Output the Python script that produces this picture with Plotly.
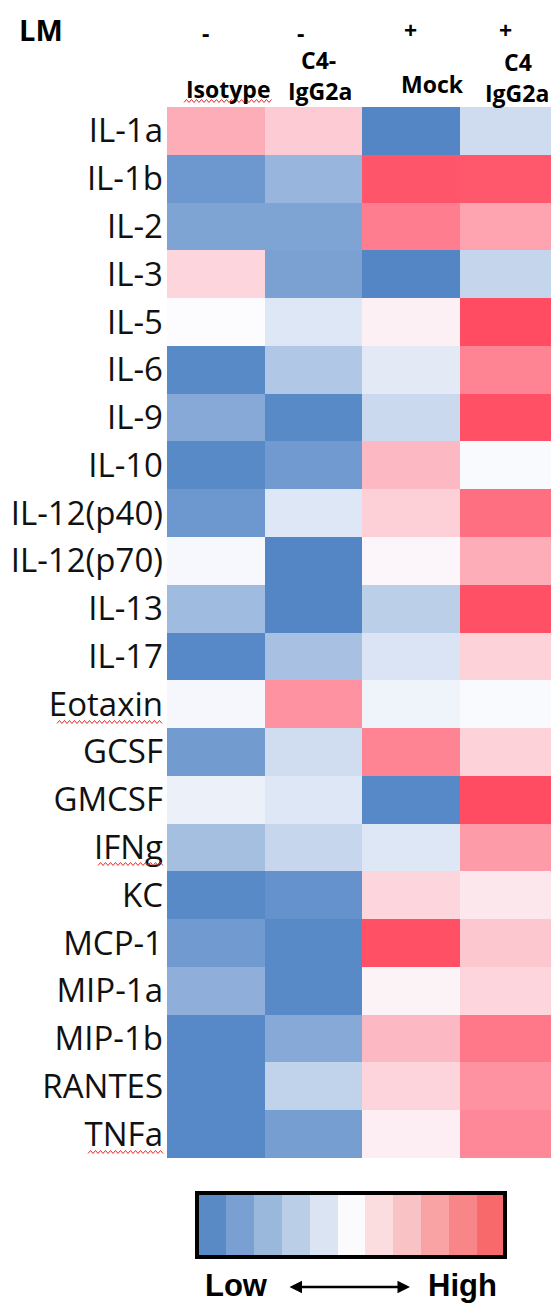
import plotly.graph_objects as go

W, H = 551, 1304

cytokines = ["IL-1a", "IL-1b", "IL-2", "IL-3", "IL-5", "IL-6", "IL-9", "IL-10",
             "IL-12(p40)", "IL-12(p70)", "IL-13", "IL-17", "Eotaxin", "GCSF",
             "GMCSF", "IFNg", "KC", "MCP-1", "MIP-1a", "MIP-1b", "RANTES", "TNFa"]
groups = ["Isotype", "C4-IgG2a", "Mock", "C4 IgG2a"]
lm_status = ["-", "-", "+", "+"]

# relative level, -1 = low (blue), +1 = high (red)
isotype = [0.45, -0.85, -0.75, 0.22, 0.0, -0.97, -0.70, -0.97, -0.85, -0.03, -0.55,
           -0.98, -0.04, -0.82, -0.10, -0.52, -0.97, -0.83, -0.65, -0.98, -0.98, -0.98]
c4_minus = [0.28, -0.60, -0.75, -0.77, -0.18, -0.45, -0.97, -0.83, -0.18, -1.0, -1.0,
            -0.50, 0.60, -0.26, -0.18, -0.32, -0.90, -0.97, -0.97, -0.70, -0.35, -0.80]
mock = [-1.0, 0.95, 0.72, -1.0, 0.07, -0.15, -0.30, 0.38, 0.25, 0.04, -0.38,
        -0.20, -0.08, 0.68, -0.98, -0.18, 0.22, 0.98, 0.05, 0.38, 0.23, 0.08]
c4_plus = [-0.27, 0.93, 0.50, -0.33, 1.0, 0.68, 0.98, -0.02, 0.80, 0.45, 0.98,
           0.24, -0.02, 0.24, 1.0, 0.55, 0.12, 0.30, 0.22, 0.75, 0.60, 0.66]

legend_levels = [-1.0, -0.8, -0.6, -0.4, -0.2, 0.0, 0.2, 0.4, 0.6, 0.8, 1.0]
legend_colors = ["#5A8AC6", "#7AA0D3", "#9AB7DC", "#BACEE7", "#DBE4F2", "#FBFBFE",
                 "#FBDCDF", "#F9C2C4", "#F9A3A5", "#F88688", "#F8696B"]

z = [[isotype[i], c4_minus[i], mock[i], c4_plus[i]] for i in range(len(cytokines))]

heat_scale = [[0.0, "rgb(84,134,198)"], [0.5, "rgb(252,252,255)"], [1.0, "rgb(255,76,98)"]]

n = len(legend_colors)
leg_scale = []
for i, c in enumerate(legend_colors):
    leg_scale.append([i / n, c])
    leg_scale.append([(i + 1) / n, c])

def px(x):
    return x / W

def py(y):
    return 1 - y / H

fig = go.Figure()
fig.add_trace(go.Heatmap(
    z=z, x=list(range(len(groups))), y=cytokines,
    colorscale=heat_scale, zmin=-1, zmax=1, showscale=False,
    hoverinfo="skip", xaxis="x", yaxis="y"))
fig.add_trace(go.Heatmap(
    z=[legend_levels], x=list(range(n)), y=[0],
    colorscale=leg_scale, zmin=-1.1, zmax=1.1, showscale=False,
    hoverinfo="skip", xaxis="x2", yaxis="y2"))

label_font = dict(family="Open Sans", size=33, color="#111111")
hdr_font = dict(family="Open Sans", size=23, color="black", weight="bold")

fig.update_layout(
    template="none",
    width=W, height=H,
    margin=dict(l=0, r=0, t=0, b=0),
    paper_bgcolor="white", plot_bgcolor="white",
    showlegend=False,
    xaxis=dict(domain=[px(167), 1.0], range=[-0.5, 3.44], showticklabels=False,
               showgrid=False, zeroline=False, showline=False, ticks="", automargin=False),
    yaxis=dict(domain=[py(1158), py(107)], autorange="reversed", showgrid=False,
               zeroline=False, showline=False, ticks="", tickfont=label_font,
               automargin=False, ticklabelstandoff=3),
    xaxis2=dict(domain=[px(198), px(505)], range=[-0.5, n - 0.5], visible=False,
                anchor="y2"),
    yaxis2=dict(domain=[py(1256), py(1194)], range=[-0.5, 0.5], visible=False,
                anchor="x2"),
)

ann = []
ann.append(dict(text="LM", x=px(41), y=py(29), font=dict(family="Open Sans", size=29,
                color="black", weight="bold")))
status_x = [205, 300, 410, 505]
status_y = [33, 33, 30, 30]
for s, xx, yy in zip(lm_status, status_x, status_y):
    ann.append(dict(text=s, x=px(xx), y=py(yy), font=hdr_font))
hdr = [("Isotype", 228, 89), ("C4-", 318, 60), ("IgG2a", 320, 91),
       ("Mock", 432, 84), ("C4", 518, 62), ("IgG2a", 517, 93)]
for t, xx, yy in hdr:
    ann.append(dict(text=t, x=px(xx), y=py(yy), font=hdr_font))
low_font = dict(family="Liberation Sans", size=31, color="black", weight="bold")
ann.append(dict(text="Low", x=px(236), y=py(1285), font=low_font))
ann.append(dict(text="High", x=px(462), y=py(1285), font=low_font))
ann.append(dict(text="", x=px(410), y=py(1287), ax=-122, ay=0, showarrow=True,
                arrowhead=2, arrowside="end+start", arrowsize=1, arrowwidth=2.5,
                arrowcolor="black", xref="paper", yref="paper"))
for a in ann:
    a.setdefault("xref", "paper")
    a.setdefault("yref", "paper")
    a.setdefault("showarrow", False)
    a.setdefault("xanchor", "center")
    a.setdefault("yanchor", "middle")
fig.update_layout(annotations=ann)

shapes = [dict(type="rect", xref="paper", yref="paper",
               x0=px(197), x1=px(505), y0=py(1257), y1=py(1193),
               line=dict(color="black", width=4), fillcolor="rgba(0,0,0,0)")]

def squiggle(x0, x1, y):
    pts = []
    xx = x0
    k = 0
    while xx <= x1:
        yy = y + (1.5 if k % 2 == 0 else -1.5)
        pts.append(f"{px(xx):.5f},{py(yy):.5f}")
        xx += 2.5
        k += 1
    return "M " + " L ".join(pts)

for x0, x1, y in [(184, 272, 101), (57, 163, 722), (98, 163, 864), (88, 165, 1152)]:
    shapes.append(dict(type="path", xref="paper", yref="paper", path=squiggle(x0, x1, y),
                       line=dict(color="rgb(230,40,40)", width=1)))
fig.update_layout(shapes=shapes)

fig.write_html(
    "out.html",
    config={"displayModeBar": False},
    post_script="document.documentElement.style.margin='0';"
                "document.documentElement.style.overflow='hidden';"
                "document.body.style.margin='0';document.body.style.padding='0';"
                "document.body.style.overflow='hidden';",
)
